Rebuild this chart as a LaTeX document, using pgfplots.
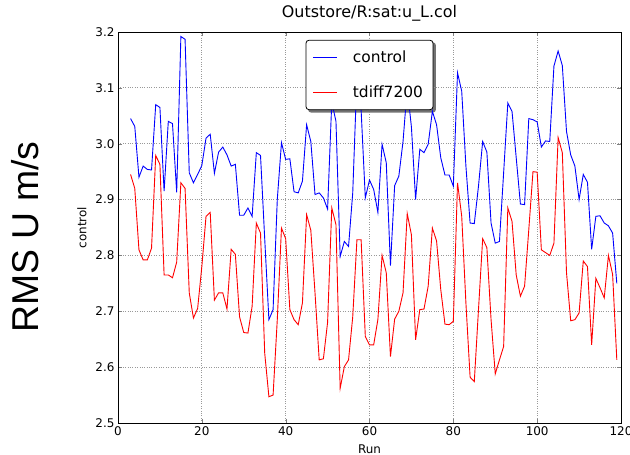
\documentclass[border=0pt]{standalone}
\usepackage{fontspec}
\setmainfont{DejaVu Sans}
\newfontfamily\bigfont{Liberation Sans}
\usepackage{pgfplots}
\usepackage{pgfplotstable}
\pgfplotsset{compat=1.18}
\pgfdeclarelayer{background}
\pgfsetlayers{background,main}

\pgfplotstableread{
x blue red
3 3.045 2.945
4 3.031 2.920
5 2.940 2.810
6 2.960 2.792
7 2.954 2.792
8 2.953 2.813
9 3.070 2.979
10 3.065 2.963
11 2.915 2.765
12 3.040 2.765
13 3.036 2.760
14 2.913 2.788
15 3.192 2.930
16 3.187 2.920
17 2.948 2.733
18 2.930 2.688
19 2.945 2.705
20 2.961 2.780
21 3.010 2.870
22 3.017 2.877
23 2.947 2.720
24 2.985 2.733
25 2.994 2.733
26 2.980 2.704
27 2.960 2.811
28 2.963 2.802
29 2.872 2.690
30 2.872 2.662
31 2.885 2.661
32 2.870 2.709
33 2.984 2.858
34 2.979 2.840
35 2.830 2.625
36 2.685 2.547
37 2.703 2.550
38 2.900 2.685
39 3.002 2.849
40 2.972 2.830
41 2.973 2.703
42 2.914 2.685
43 2.912 2.676
44 2.933 2.715
45 3.034 2.873
46 3.004 2.845
47 2.909 2.733
48 2.912 2.613
49 2.903 2.615
50 2.883 2.680
51 3.075 2.885
52 3.040 2.855
53 2.798 2.562
54 2.825 2.601
55 2.816 2.613
56 2.912 2.690
57 3.120 2.828
58 3.060 2.828
59 2.903 2.655
60 2.935 2.640
61 2.918 2.640
62 2.877 2.685
63 2.999 2.800
64 2.966 2.769
65 2.782 2.619
66 2.925 2.686
67 2.942 2.700
68 3.004 2.733
69 3.100 2.875
70 3.030 2.837
71 2.900 2.649
72 2.990 2.703
73 2.984 2.704
74 2.999 2.745
75 3.058 2.849
76 3.034 2.826
77 2.975 2.739
78 2.944 2.677
79 2.944 2.676
80 2.924 2.682
81 3.127 2.930
82 3.094 2.870
83 2.960 2.715
84 2.858 2.582
85 2.857 2.574
86 2.924 2.703
87 3.004 2.830
88 2.985 2.814
89 2.858 2.685
90 2.822 2.588
91 2.825 2.613
92 2.948 2.637
93 3.073 2.885
94 3.058 2.861
95 2.975 2.765
96 2.892 2.727
97 2.891 2.745
98 3.045 2.846
99 3.043 2.950
100 3.039 2.949
101 2.994 2.810
102 3.005 2.805
103 3.004 2.800
104 3.139 2.822
105 3.166 3.011
106 3.140 2.984
107 3.022 2.769
108 2.980 2.683
109 2.960 2.685
110 2.900 2.697
111 2.945 2.790
112 2.931 2.780
113 2.811 2.640
114 2.870 2.759
115 2.871 2.742
116 2.858 2.724
117 2.853 2.800
118 2.840 2.766
119 2.750 2.613
}\datatable

\begin{document}
\begin{tikzpicture}
\path[use as bounding box] (-118bp,-32bp) rectangle (512bp,423bp);
\begin{axis}[
  at={(0,0)}, anchor=south west,
  scale only axis, width=503bp, height=391bp,
  xmin=0, xmax=120, ymin=2.5, ymax=3.2,
  xtick={0,20,40,60,80,100,120},
  ytick={2.5,2.6,2.7,2.8,2.9,3.0,3.1,3.2},
  yticklabel style={/pgf/number format/.cd, fixed, fixed zerofill, precision=1},
  /pgf/number format/assume math mode=true,
  tick label style={font=\fontsize{12}{14}\selectfont},
  tick pos=both, tick align=inside,
  major tick length=4bp,
  axis line style={line width=0.8bp},
  grid=major,
  major grid style={dotted, line width=0.8bp, black!40},
  title={Outstore/R:sat:u\_L.col},
  title style={font=\fontsize{16}{19}\selectfont, at={(0.5,1)}, anchor=base, yshift=9bp},
  xlabel={Run},
  xlabel style={font=\fontsize{12}{14}\selectfont, at={(axis description cs:0.5,0)}, anchor=base, yshift=-30bp},
  ylabel={control},
  ylabel style={font=\fontsize{12}{14}\selectfont, at={(axis description cs:-0.0716,0.5)}, anchor=center},
  legend style={name=leg, at={(0.5,0.98)}, anchor=north, draw=black, line width=0.8bp, rounded corners=3bp,
    fill=white,
    font=\fontsize{15.5}{18}\selectfont, row sep=15bp, inner xsep=7bp, inner ysep=8bp,
    nodes={inner sep=3bp}},
  legend cell align=left,
  legend image code/.code={\draw[#1, line width=0.9bp, sharp corners] (0bp,0bp) -- (24bp,0bp);},
]
\addplot[blue, line width=0.9bp] table[x=x, y=blue] {\datatable};
\addlegendentry{\hspace{12bp}control}
\addplot[red, line width=0.9bp] table[x=x, y=red] {\datatable};
\addlegendentry{\hspace{12bp}tdiff7200}
\end{axis}
\begin{pgfonlayer}{background}
\fill[black!55, rounded corners=3bp] ([xshift=2.5bp,yshift=-2.5bp]leg.south west) rectangle ([xshift=2.5bp,yshift=-2.5bp]leg.north east);
\end{pgfonlayer}
\node[rotate=90, anchor=center, font=\bigfont\fontsize{37.5}{40}\selectfont] at (-93bp,186bp) {RMS U m/s};
\end{tikzpicture}
\end{document}
